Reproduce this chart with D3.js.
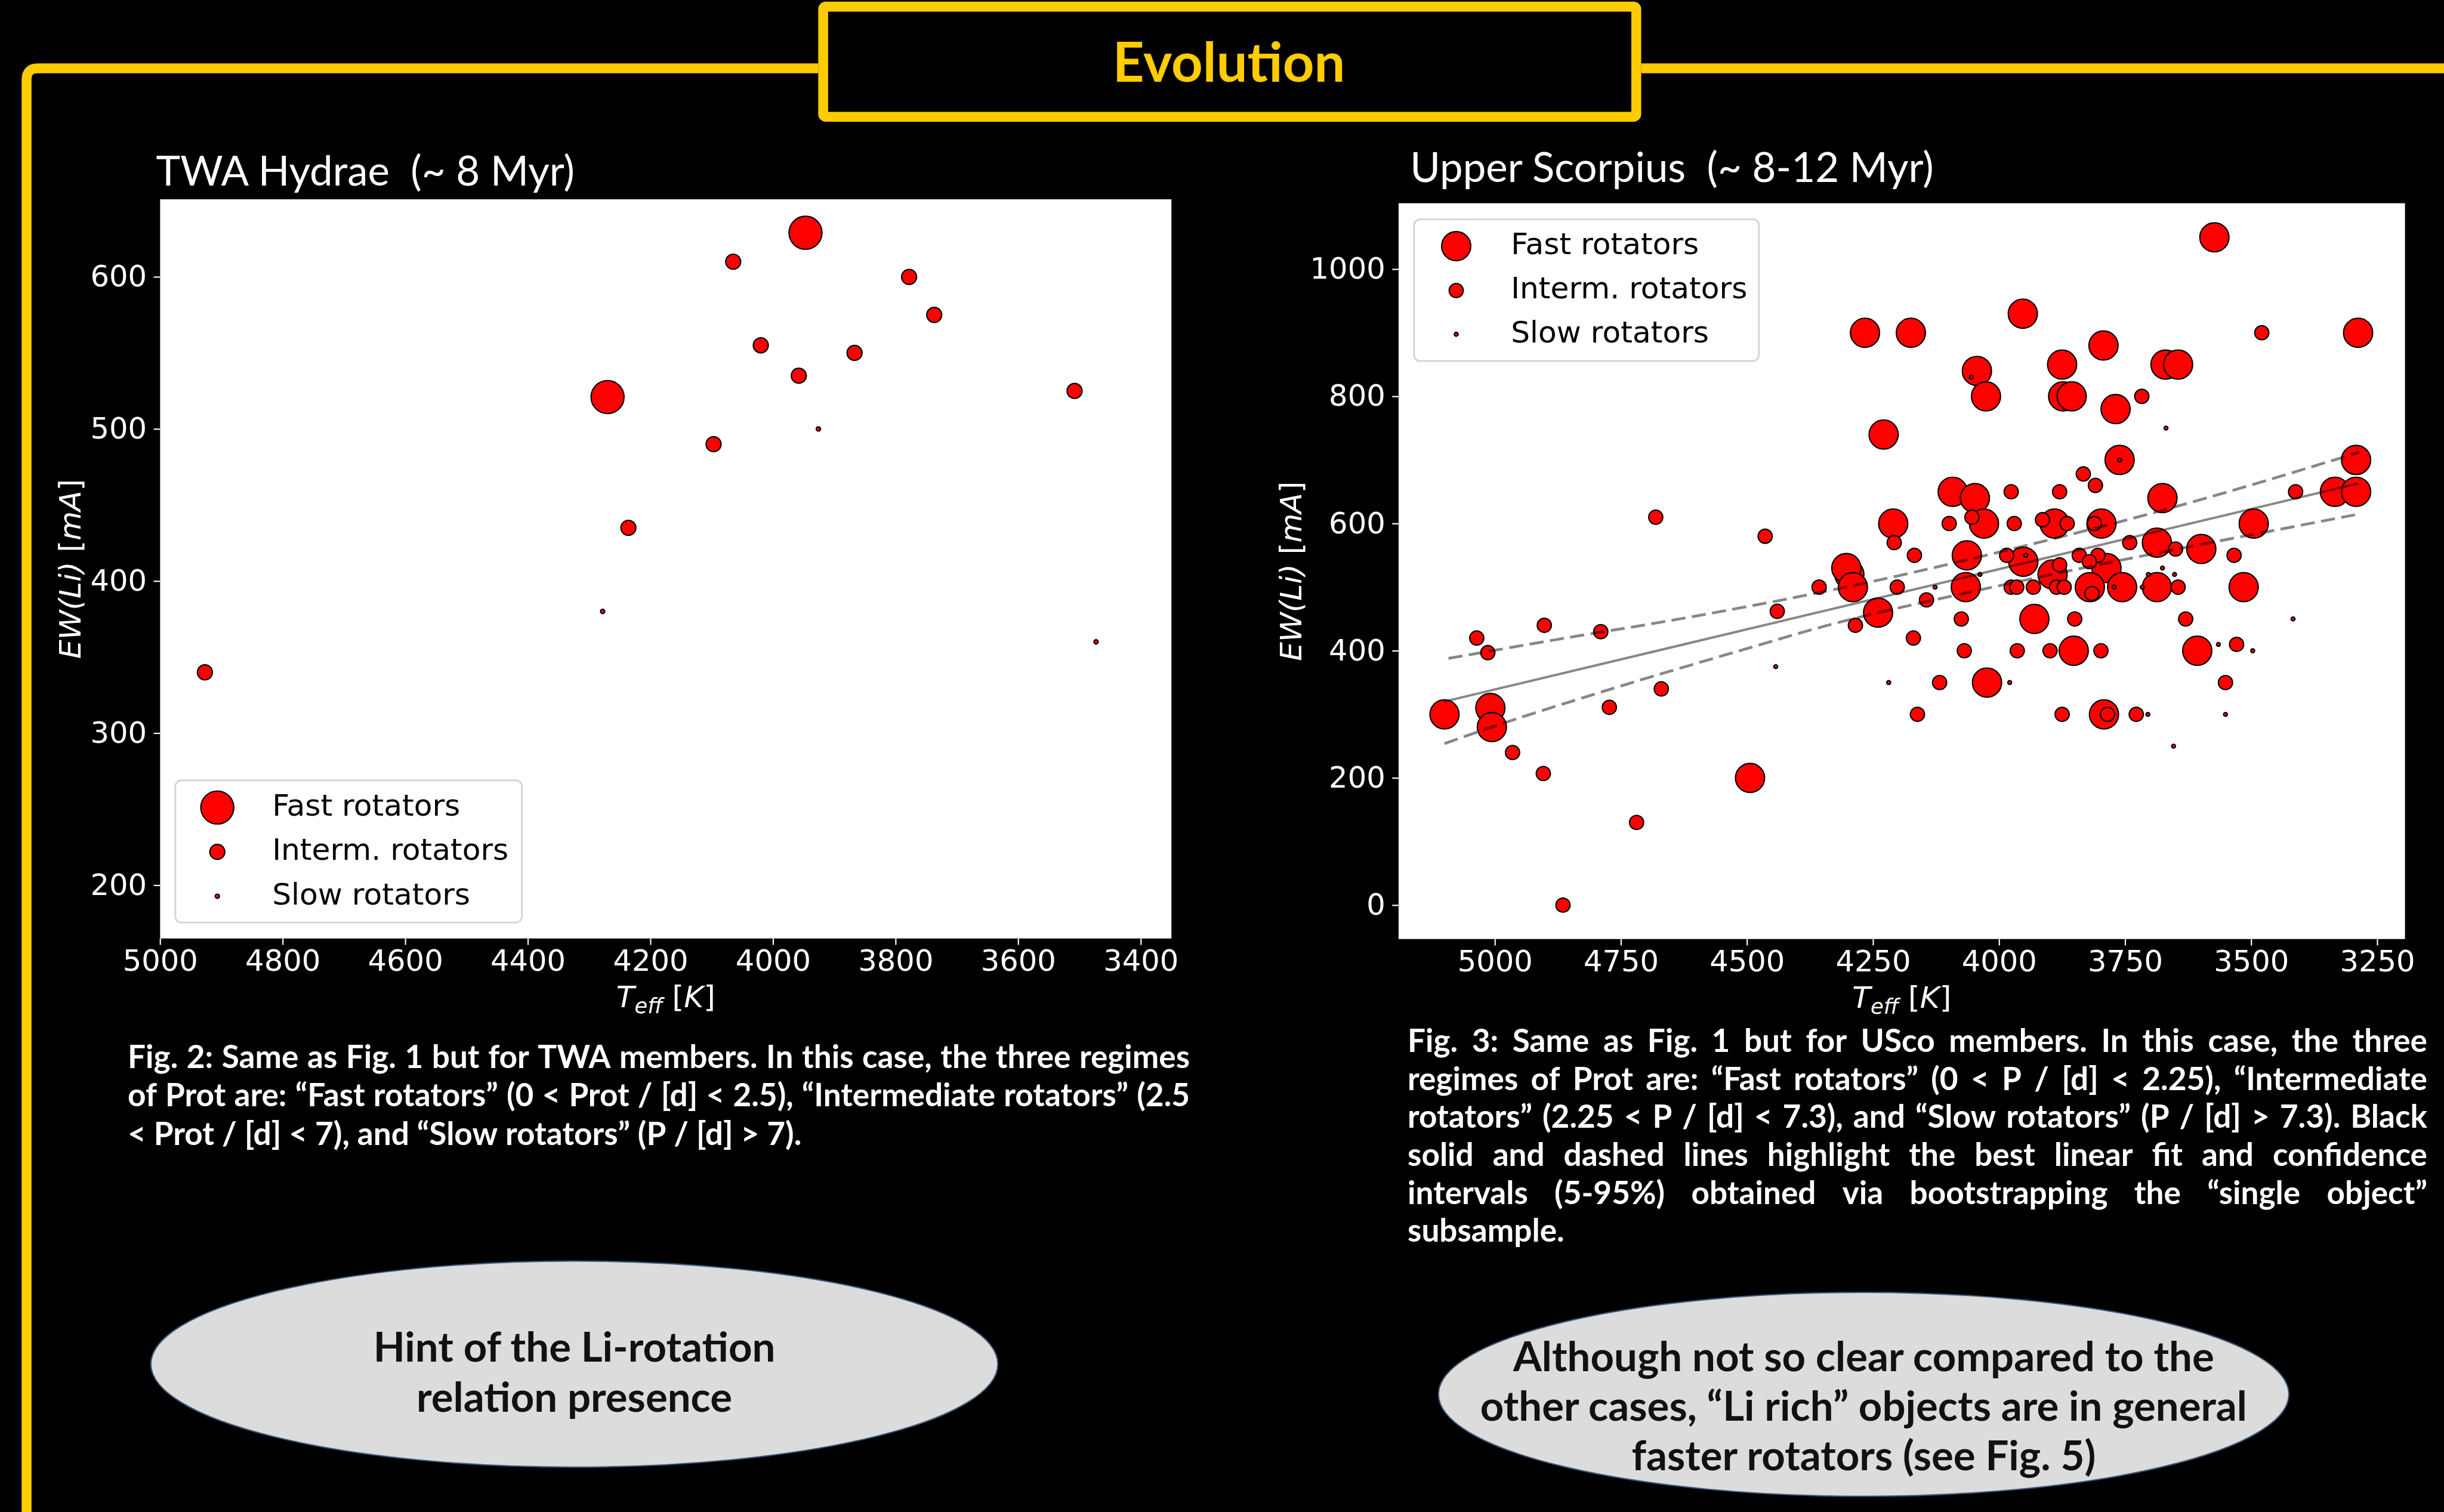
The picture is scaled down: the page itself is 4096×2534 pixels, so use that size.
<!DOCTYPE html>
<html>
<head>
<meta charset="utf-8">
<script src="https://cdn.jsdelivr.net/npm/d3@7"></script>
<style>
  html, body { margin: 0; padding: 0; background: #000; overflow: hidden; }
</style>
</head>
<body>
<script>
// ---------------- data: [Teff (K), EW(Li) (mA)] ----------------
// TWA Hydrae
const twaFast   = [[3947, 629], [4270, 521]];
const twaInterm = [[4065, 610], [3778, 600], [3737, 575], [4020, 555], [3867, 550],
                   [3958, 535], [3508, 525], [4097, 490], [4236, 435], [4927, 340]];
const twaSlow   = [[3926, 500], [4278, 380], [3473, 360]];

// Upper Scorpius
const uscoFast = [
  [3573, 1050], [3953, 930], [4266, 900], [4175, 900], [3288, 900], [3793, 880],
  [3875, 850], [3670, 850], [3645, 850], [4044, 840], [4026, 800], [3873, 800],
  [3856, 800], [3769, 780], [4229, 740], [3761, 700], [3292, 700], [4092, 650],
  [4048, 640], [3334, 650], [3292, 650], [3676, 640], [4210, 600], [4030, 600],
  [3890, 600], [3797, 600], [3495, 600], [3687, 570], [3599, 560], [4064, 550],
  [3952, 540], [4297, 520], [4303, 530], [3787, 530], [3894, 520], [4290, 500],
  [4066, 500], [3820, 500], [3756, 500], [3687, 500], [3515, 500], [4240, 460],
  [3930, 450], [3852, 400], [3607, 400], [4024, 350], [5009, 310], [5100, 300],
  [3792, 300], [5006, 280], [4494, 200]
];
const uscoInterm = [
  [3479, 900], [3717, 800], [3833, 678], [3809, 660], [3976, 650], [3880, 650],
  [3412, 650], [4681, 610], [4054, 610], [3914, 606], [4099, 600], [3970, 600],
  [3865, 600], [3811, 600], [4464, 580], [4208, 570], [3741, 570], [3650, 560],
  [4168, 550], [3985, 550], [3841, 550], [3804, 550], [3534, 550], [3821, 540],
  [3880, 535], [4357, 500], [4202, 500], [3976, 500], [3965, 500], [3932, 500],
  [3886, 500], [3871, 500], [3645, 500], [3816, 490], [4144, 480], [4440, 462],
  [4075, 450], [3850, 450], [3630, 450], [4902, 440], [4285, 440], [4790, 430],
  [5036, 420], [4170, 420], [3529, 410], [5014, 397], [4069, 400], [3964, 400],
  [3899, 400], [3798, 400], [4118, 350], [3551, 350], [4670, 340], [4773, 311],
  [4162, 300], [3875, 300], [3785, 300], [3728, 300], [4965, 240], [4904, 207],
  [4719, 130], [4865, 0]
];
const uscoSlow = [
  [4055, 830], [3669, 750], [3761, 700], [3947, 550], [3676, 530], [4038, 520],
  [3704, 520], [3652, 520], [4127, 500], [3772, 500], [3716, 500], [3417, 450],
  [3565, 410], [3497, 400], [4443, 375], [4219, 350], [3979, 350], [3705, 300],
  [3551, 300], [3654, 250]
];

// best linear fit and 5-95% bootstrap band (USco)
const fitBest  = [[5101, 320], [3288, 663]];
const fitUpper = [[5092, 388], [4790, 430], [4692, 441], [4302, 498], [3970, 560], [3628, 629], [3286, 712]];
const fitLower = [[5100, 254], [4968, 291], [4781, 337], [4692, 359], [4437, 418], [4302, 450],
                  [3945, 512], [3726, 548], [3482, 585], [3286, 615]];

// ticks and labels
const twaXTicks  = [5000, 4800, 4600, 4400, 4200, 4000, 3800, 3600, 3400];
const twaYTicks  = [200, 300, 400, 500, 600];
const uscoXTicks = [5000, 4750, 4500, 4250, 4000, 3750, 3500, 3250];
const uscoYTicks = [0, 200, 400, 600, 800, 1000];
const legendLabels = ["Fast rotators", "Interm. rotators", "Slow rotators"];

const pageTitle = "Evolution";
const twaTitle  = "TWA Hydrae  (~ 8 Myr)";
const uscoTitle = "Upper Scorpius  (~ 8-12 Myr)";

const twaCaption = [
  "Fig. 2: Same as Fig. 1 but for TWA members. In this case, the three regimes",
  "of Prot are: \u201cFast rotators\u201d (0 < Prot / [d] < 2.5), \u201cIntermediate rotators\u201d (2.5",
  "< Prot / [d] < 7), and \u201cSlow rotators\u201d (P / [d] > 7)."
];
const uscoCaption = [
  "Fig. 3: Same as Fig. 1 but for USco members. In this case, the three",
  "regimes of Prot are: \u201cFast rotators\u201d (0 < P / [d] < 2.25), \u201cIntermediate",
  "rotators\u201d (2.25 < P / [d] < 7.3), and \u201cSlow rotators\u201d (P / [d] > 7.3). Black",
  "solid and dashed lines highlight the best linear fit and confidence",
  "intervals (5-95%) obtained via bootstrapping the \u201csingle object\u201d",
  "subsample."
];
const twaNote  = ["Hint of the Li-rotation", "relation presence"];
const uscoNote = ["Although not so clear compared to the",
                  "other cases, \u201cLi rich\u201d objects are in general",
                  "faster rotators (see Fig. 5)"];

// ---------------- drawing ----------------
const W = 4096, H = 2534;
const S = W / 5702;              // layout below is laid out on a 5702 x 3528 grid
const YELLOW = "#FFCC00";

const svg = d3.select("body").append("svg")
  .attr("width", W).attr("height", H);
svg.append("rect").attr("width", W).attr("height", H).attr("fill", "#000");
const root = svg.append("g").attr("transform", `scale(${S})`);

// yellow frame and title box
root.append("path")
  .attr("d", "M62,3528 V186 Q62,159.5 88,159.5 H1909")
  .attr("fill", "none").attr("stroke", YELLOW).attr("stroke-width", 23);
root.append("path")
  .attr("d", "M3829,159.5 H5702")
  .attr("fill", "none").attr("stroke", YELLOW).attr("stroke-width", 23);
root.append("rect")
  .attr("x", 1920.5).attr("y", 15.5).attr("width", 1897).attr("height", 257).attr("rx", 6)
  .attr("fill", "#000").attr("stroke", YELLOW).attr("stroke-width", 23);
root.append("text")
  .attr("x", 2867).attr("y", 191).attr("text-anchor", "middle")
  .attr("font-family", "Lato").attr("font-weight", 700).attr("font-size", 128)
  .attr("fill", YELLOW).text(pageTitle);

function drawPanel(p) {
  const g = root.append("g");
  const x = d3.scaleLinear().domain(p.xDomain).range([p.left, p.right]);
  const y = d3.scaleLinear().domain(p.yDomain).range([p.bottom, p.top]);

  g.append("rect")
    .attr("x", p.left).attr("y", p.top)
    .attr("width", p.right - p.left).attr("height", p.bottom - p.top)
    .attr("fill", "#fff");

  g.append("text")
    .attr("x", p.titleX).attr("y", p.titleY)
    .attr("font-family", "Lato").attr("font-size", 96).attr("fill", "#fff")
    .style("white-space", "pre").text(p.title);

  const ax = g.append("g").attr("transform", `translate(0,${p.bottom})`)
    .call(d3.axisBottom(x).tickValues(p.xTicks).tickSize(15).tickPadding(12).tickFormat(d3.format("d")));
  const ay = g.append("g").attr("transform", `translate(${p.left},0)`)
    .call(d3.axisLeft(y).tickValues(p.yTicks).tickSize(15).tickPadding(16).tickFormat(d3.format("d")));
  [ax, ay].forEach(a => {
    a.select(".domain").remove();
    a.selectAll(".tick line").attr("stroke", "#fff").attr("stroke-width", 3);
    a.selectAll(".tick text").attr("fill", "#fff")
      .attr("font-family", "DejaVu Sans").attr("font-size", 69);
  });

  // markers: fast first, then intermediate, then slow on top
  const groups = [
    { data: p.fast, r: p.rFast },
    { data: p.interm, r: p.rInterm },
    { data: p.slow, r: p.rSlow }
  ];
  groups.forEach(c => {
    g.append("g").selectAll("circle").data(c.data).join("circle")
      .attr("cx", d => x(d[0])).attr("cy", d => y(d[1])).attr("r", c.r)
      .attr("fill", "#ff0000").attr("stroke", "#000").attr("stroke-width", 3);
  });

  if (p.fit) {
    const straight = d3.line().x(d => x(d[0])).y(d => y(d[1]));
    const smooth = d3.line().x(d => x(d[0])).y(d => y(d[1])).curve(d3.curveBasis);
    g.append("path").attr("d", straight(p.fit.best))
      .attr("fill", "none").attr("stroke", "#000").attr("stroke-opacity", 0.47).attr("stroke-width", 5.5);
    [p.fit.upper, p.fit.lower].forEach(band => {
      g.append("path").attr("d", smooth(band))
        .attr("fill", "none").attr("stroke", "#000").attr("stroke-opacity", 0.47)
        .attr("stroke-width", 6.5).attr("stroke-dasharray", "33,15");
    });
  }

  // legend
  const L = p.legend;
  g.append("rect")
    .attr("x", L.x0).attr("y", L.y0).attr("width", L.x1 - L.x0).attr("height", L.y1 - L.y0)
    .attr("rx", 14).attr("fill", "#fff").attr("fill-opacity", 0.9)
    .attr("stroke", "#d4d4d4").attr("stroke-width", 4);
  const radii = [p.rFast, p.rInterm, p.rSlow];
  legendLabels.forEach((lab, i) => {
    g.append("circle").attr("cx", L.mx).attr("cy", L.my[i]).attr("r", radii[i])
      .attr("fill", "#ff0000").attr("stroke", "#000").attr("stroke-width", 3);
    g.append("text").attr("x", L.tx).attr("y", L.my[i] + 19)
      .attr("font-family", "DejaVu Sans").attr("font-size", 70).attr("fill", "#000").text(lab);
  });

  // axis labels
  const xl = g.append("text")
    .attr("x", (p.left + p.right) / 2).attr("y", p.bottom + 160)
    .attr("text-anchor", "middle").attr("font-family", "DejaVu Sans")
    .attr("font-size", 70).attr("fill", "#fff").style("white-space", "pre");
  xl.append("tspan").attr("font-style", "italic").text("T");
  xl.append("tspan").attr("font-style", "italic").attr("font-size", 49).attr("dy", 14).text("eff");
  xl.append("tspan").attr("dy", -14).text(" [");
  xl.append("tspan").attr("font-style", "italic").text("K");
  xl.append("tspan").text("]");

  const yl = g.append("text")
    .attr("transform", `translate(${p.yLabelX},${(p.top + p.bottom) / 2}) rotate(-90)`)
    .attr("text-anchor", "middle").attr("font-family", "DejaVu Sans")
    .attr("font-size", 70).attr("fill", "#fff").style("white-space", "pre");
  yl.append("tspan").attr("font-style", "italic").text("EW(Li)");
  yl.append("tspan").text(" [");
  yl.append("tspan").attr("font-style", "italic").text("mA");
  yl.append("tspan").text("]");
}

drawPanel({
  title: twaTitle, titleX: 364, titleY: 433,
  left: 373.6, right: 2733, top: 465, bottom: 2189.5,
  xDomain: [5000, 3350], yDomain: [165, 651],
  xTicks: twaXTicks, yTicks: twaYTicks,
  fast: twaFast, interm: twaInterm, slow: twaSlow,
  rFast: 38.5, rInterm: 17.5, rSlow: 5,
  legend: { x0: 409, y0: 1820.5, x1: 1217.5, y1: 2152.3, mx: 507, my: [1884, 1987.5, 2091], tx: 635 },
  yLabelX: 188
});

drawPanel({
  title: uscoTitle, titleX: 3290, titleY: 424,
  left: 3263, right: 5611, top: 474.1, bottom: 2190.8,
  xDomain: [5191, 3195], yDomain: [-53.3, 1103.7],
  xTicks: uscoXTicks, yTicks: uscoYTicks,
  fast: uscoFast, interm: uscoInterm, slow: uscoSlow,
  rFast: 34, rInterm: 16.5, rSlow: 4.5,
  fit: { best: fitBest, upper: fitUpper, lower: fitLower },
  legend: { x0: 3299, y0: 511.8, x1: 4103.7, y1: 842.3, mx: 3397.4, my: [574.3, 677.7, 779.8], tx: 3525 },
  yLabelX: 3036
});

// justified caption paragraphs
function caption(lines, x0, y0, width, lh) {
  const g = root.append("g")
    .attr("font-family", "Lato").attr("font-weight", 700).attr("font-size", 74).attr("fill", "#fff");
  const probe = g.append("text").style("white-space", "pre").text("a a");
  const probe2 = g.append("text").text("aa");
  const space = probe.node().getComputedTextLength() - probe2.node().getComputedTextLength();
  probe.remove(); probe2.remove();
  lines.forEach((line, i) => {
    const words = line.split(" ");
    const t = g.append("text").attr("y", y0 + i * lh);
    const spans = words.map(w => t.append("tspan").text(w));
    const widths = spans.map(s => s.node().getComputedTextLength());
    const last = i === lines.length - 1;
    const gap = last || words.length < 2 ? space : (width - d3.sum(widths)) / (words.length - 1);
    let cx = x0;
    spans.forEach((s, k) => { s.attr("x", cx); cx += widths[k] + gap; });
  });
}
caption(twaCaption, 298, 2492, 2478, 89.5);
caption(uscoCaption, 3284, 2454, 2379, 88.7);

// summary ellipses
function note(lines, cx, cy, rx, ry, y0, lh) {
  root.append("ellipse").attr("cx", cx).attr("cy", cy).attr("rx", rx).attr("ry", ry)
    .attr("fill", "#dcdcdc").attr("stroke", "#3b5675").attr("stroke-width", 3);
  const t = root.append("text").attr("text-anchor", "middle")
    .attr("font-family", "Lato").attr("font-weight", 700).attr("font-size", 96).attr("fill", "#111");
  lines.forEach((line, i) => t.append("tspan").attr("x", cx).attr("y", y0 + i * lh).text(line));
}
note(twaNote, 1340, 3182.5, 988, 240.5, 3177, 116);
note(uscoNote, 4348, 3253, 992, 238, 3199, 115.5);
</script>
</body>
</html>
